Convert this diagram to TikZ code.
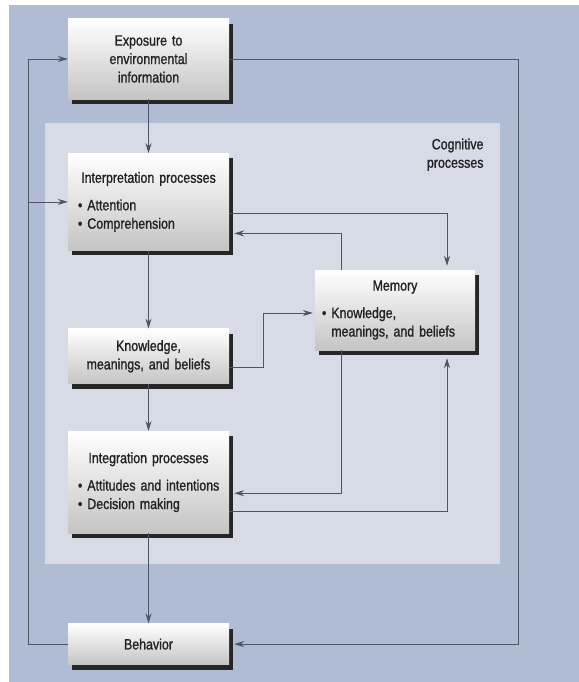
\documentclass[tikz,border=0pt]{standalone}
\usepackage{fontspec}
\setmainfont{Liberation Sans}[FakeStretch=0.83, FakeBold=1.2]
\usepackage{xcolor}
\definecolor{colorOuter}{RGB}{176,188,211}
\definecolor{colorInner}{RGB}{214,219,230}
\definecolor{colorLine}{RGB}{78,84,98}
\definecolor{colorText}{RGB}{35,35,38}
\usetikzlibrary{arrows.meta, positioning, shadows}
\tikzset{
  procbox/.style={rectangle, top color=white, bottom color=black!23, minimum width=161bp, inner xsep=10bp, inner ysep=0pt, text width=141bp, align=center, text=colorText, font=\fontsize{15}{18.5}\selectfont, general shadow={fill=black!85, shadow xshift=4bp, shadow yshift=-5bp}},
  flow/.style={-{Stealth[length=10bp,width=6bp]}, colorLine, line width=0.8bp}
}
\newcommand{\itm}{\textbullet\ }

\begin{document}
\begin{tikzpicture}[x=1bp, y={(0,-1bp)}, node distance=50bp]
\useasboundingbox (0,0) rectangle (579,682);
% background panels
\fill[colorOuter] (9,5) rectangle (579,682);
\fill[colorInner] (45,123) rectangle (500,564);
\node[anchor=north east, align=right, text=colorText, font=\fontsize{15}{18.5}\selectfont] (cog) at (487,135) {Cognitive\\processes};

% boxes
\node[procbox, minimum height=80bp] (exp) at (148.5,59) {Exposure to\\environmental\\information};
\node[procbox, minimum height=97bp, below=54bp of exp, align=left] (interp) {{\centering Interpretation processes\par}\vspace{9bp}\itm Attention\\\itm Comprehension};
\node[procbox, minimum height=55bp, below=78bp of interp] (know) {Knowledge,\\meanings, and beliefs};
\node[procbox, minimum height=102bp, below=47bp of know, align=left] (integ) {{\centering Integration processes\par}\vspace{9bp}\mbox{\itm Attitudes and intentions}\\\itm Decision making};
\node[procbox, minimum height=41bp, below=90bp of integ] (beh) {Behavior};
\node[procbox, minimum width=160bp, minimum height=80bp, inner xsep=7bp, text width=146bp, align=left] (mem) at (395,310) {{\centering Memory\par}\vspace{9bp}\itm Knowledge,\\\hphantom{\itm}meanings, and beliefs};

% bus lines
\coordinate (lft) at (28,0);
\coordinate (rgt) at (518,0);
\coordinate (ml) at (341,0);
\coordinate (mr) at (447,0);

% connectors
\draw[flow] (exp) -- (interp);
\draw[flow] (interp) -- (know);
\draw[flow] (know) -- (integ);
\draw[flow] (integ) -- (beh);
\draw[flow, shorten >=5bp] (exp.east) -| (rgt |- beh.east) -- (beh.east);
\draw[flow] (beh.west) -- (beh.west -| lft) |- (exp.west);
\draw[flow] (lft |- interp.west) -- (interp.west);
\draw[flow, shorten >=4bp] ([yshift=-11.5bp]interp.east) -| (mr |- mem.north);
\draw[flow, shorten >=5bp] (ml |- mem.north) |- ([yshift=-31.5bp]interp.east);
\draw[flow, shorten >=2bp] ([yshift=-11.5bp]know.east) -- ++(34,0) |- ([yshift=-3bp]mem.west);
\draw[flow, shorten >=5bp] (ml |- mem.south) |- ([yshift=-11bp]integ.east);
\draw[flow, shorten >=8bp] ([yshift=-29bp]integ.east) -| (mr |- mem.south);
\end{tikzpicture}
\end{document}
